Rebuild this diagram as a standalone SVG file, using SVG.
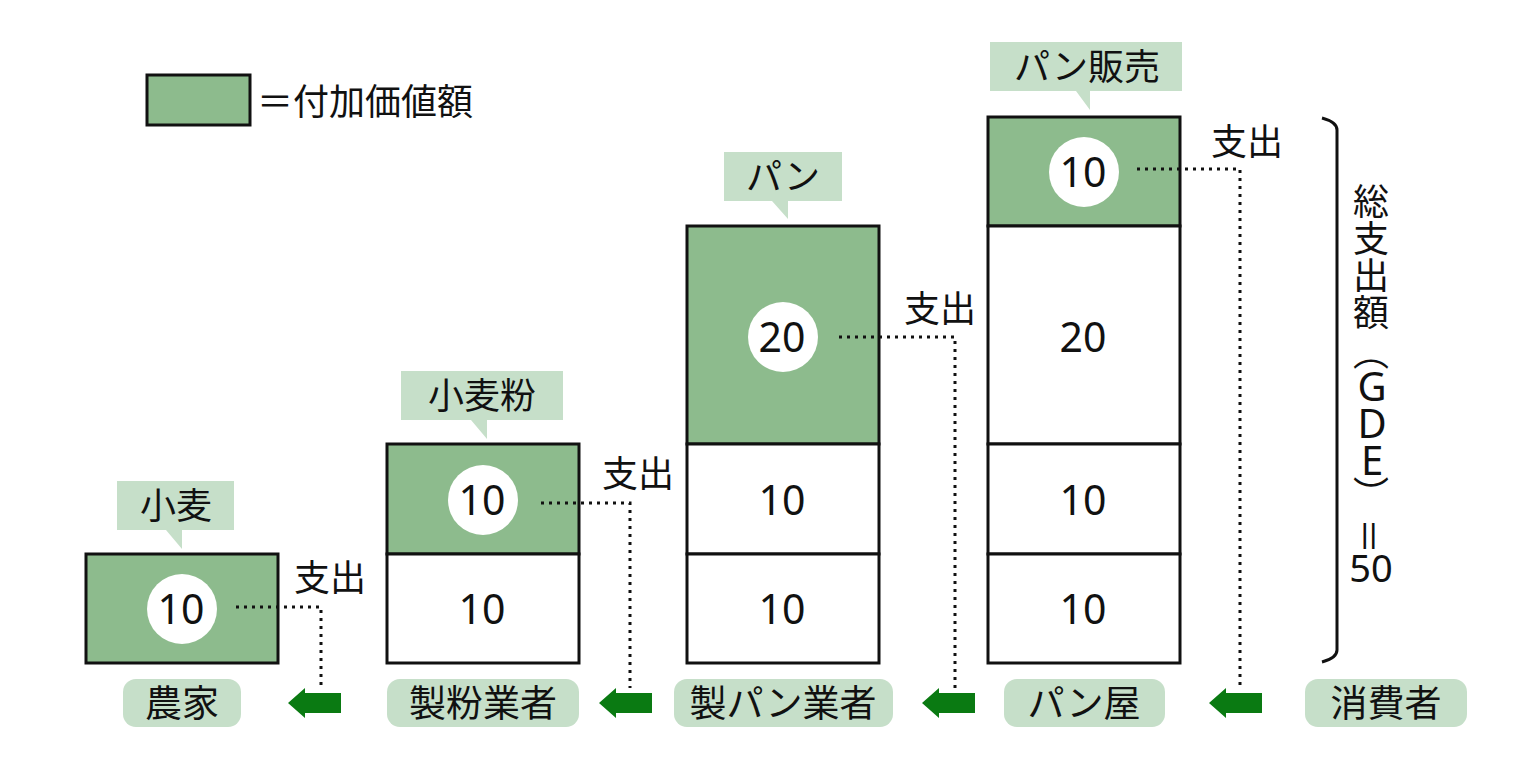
<svg xmlns="http://www.w3.org/2000/svg" width="1536" height="765" viewBox="0 0 1536 765">
<style>
text{font-family:"Noto Sans CJK JP","Noto Sans",sans-serif;fill:#111}
.box{stroke:#111;stroke-width:3}
.g{fill:#8dbb8d}
.w{fill:#fff}
.num{font-size:41px;text-anchor:middle;font-family:"Noto Sans","Noto Sans CJK JP",sans-serif}
.lab{font-size:36px;text-anchor:middle}
.act{font-size:37px;text-anchor:middle}
.call{fill:#c6dfc9}
.pill{fill:#c6dfc9}
.dot{fill:none;stroke:#111;stroke-width:3;stroke-dasharray:3 5}
.arr{fill:#0a7a12}
.vr{font-size:36px;writing-mode:vertical-rl}
.vl{font-size:40px;writing-mode:vertical-rl;text-orientation:upright;font-family:"Noto Sans",sans-serif;letter-spacing:-18px}
</style>
<rect width="1536" height="765" fill="#fff"/>
<g id="legend">
<rect x="147" y="75" width="103" height="50" class="g box" stroke-width="2"/>
<text x="257" y="115" style="font-size:36px">＝付加価値額</text>
</g>
<g id="col1">
<path class="call" d="M117 481H234V530H182V549L166 530H117Z"/>
<text class="lab" x="176" y="519">小麦</text>
<rect x="86" y="554" width="192" height="109" class="g box"/>
<circle cx="182" cy="609" r="35" class="w"/>
<text class="num" x="181" y="624">10</text>
</g>
<g id="col2">
<path class="call" d="M401 371H563V420H487V439L471 420H401Z"/>
<text class="lab" x="482" y="409">小麦粉</text>
<rect x="387" y="444" width="192" height="110" class="g box"/>
<rect x="387" y="554" width="192" height="109" class="w box"/>
<circle cx="483" cy="500" r="35" class="w"/>
<text class="num" x="482" y="515">10</text>
<text class="num" x="482" y="624">10</text>
</g>
<g id="col3">
<path class="call" d="M724 152H842V201H788V219L772 201H724Z"/>
<text class="lab" x="783" y="190">パン</text>
<rect x="687" y="226" width="192" height="218" class="g box"/>
<rect x="687" y="444" width="192" height="110" class="w box"/>
<rect x="687" y="554" width="192" height="109" class="w box"/>
<circle cx="783" cy="337" r="35" class="w"/>
<text class="num" x="782" y="352">20</text>
<text class="num" x="782" y="515">10</text>
<text class="num" x="782" y="624">10</text>
</g>
<g id="col4">
<path class="call" d="M990 42H1182V91H1090V110L1076 91H990Z"/>
<text class="lab" x="1087" y="80">パン販売</text>
<rect x="988" y="117" width="192" height="109" class="g box"/>
<rect x="988" y="226" width="192" height="218" class="w box"/>
<rect x="988" y="444" width="192" height="110" class="w box"/>
<rect x="988" y="554" width="192" height="109" class="w box"/>
<circle cx="1084" cy="172" r="35" class="w"/>
<text class="num" x="1083" y="187">10</text>
<text class="num" x="1083" y="352">20</text>
<text class="num" x="1083" y="515">10</text>
<text class="num" x="1083" y="624">10</text>
</g>
<g id="connectors">
<path class="dot" d="M236 607H321V688"/>
<path class="dot" d="M541 503H630V688"/>
<path class="dot" d="M839 337H955V688"/>
<path class="dot" d="M1137 169H1240V688"/>
<path class="arr" d="M288 703L305 688V693H341V713H305V718Z"/>
<path class="arr" d="M599 703L616 688V693H652V713H616V718Z"/>
<path class="arr" d="M922 703L939 688V693H975V713H939V718Z"/>
<path class="arr" d="M1209 703L1226 688V693H1262V713H1226V718Z"/>
<text class="lab" x="330" y="591">支出</text>
<text class="lab" x="638" y="487">支出</text>
<text class="lab" x="940" y="322">支出</text>
<text class="lab" x="1247" y="155">支出</text>
</g>
<g id="actors">
<rect class="pill" x="123" y="679" width="118" height="48" rx="13"/>
<text class="act" x="182" y="717">農家</text>
<rect class="pill" x="387" y="679" width="192" height="48" rx="13"/>
<text class="act" x="483" y="717">製粉業者</text>
<rect class="pill" x="674" y="679" width="219" height="48" rx="13"/>
<text class="act" x="783" y="717">製パン業者</text>
<rect class="pill" x="1004" y="679" width="161" height="48" rx="13"/>
<text class="act" x="1084" y="717">パン屋</text>
<rect class="pill" x="1305" y="679" width="162" height="48" rx="13"/>
<text class="act" x="1386" y="717">消費者</text>
</g>
<g id="total">
<path d="M1322 118Q1337 122 1337 130V650Q1337 658 1322 662" fill="none" stroke="#111" stroke-width="3"/>
<text class="vr" x="1371" y="183" style="letter-spacing:1px">総支出額</text>
<text class="vr" x="1371" y="334">（</text>
<text class="vl" x="1372" y="358">GDE</text>
<text class="vr" x="1371" y="476">）</text>
<text class="vr" x="1371" y="518">＝</text>
<text class="num" x="1371" y="582" style="font-size:38px">50</text>
</g>
</svg>
